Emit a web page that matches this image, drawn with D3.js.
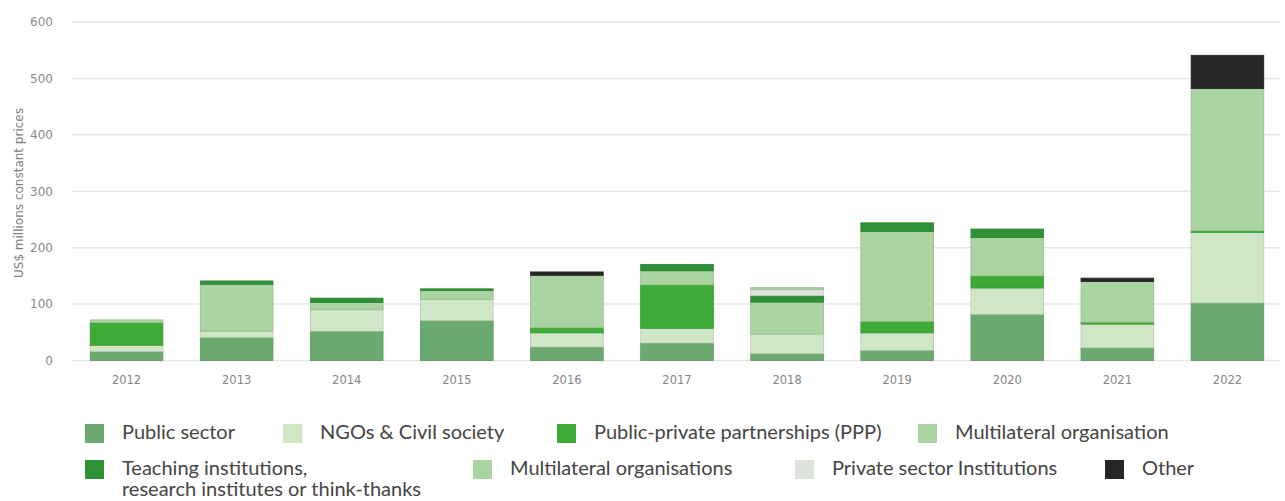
<!DOCTYPE html>
<html>
<head>
<meta charset="utf-8">
<script src="https://cdn.jsdelivr.net/npm/d3@7"></script>
<style>
  html, body { margin: 0; padding: 0; background: #ffffff; }
  svg { display: block; font-family: Lato, "Open Sans", sans-serif; }
</style>
</head>
<body>
<svg id="chart" width="1285" height="501"></svg>
<script>
// Years on the x axis
const years = ["2012", "2013", "2014", "2015", "2016", "2017", "2018", "2019", "2020", "2021", "2022"];

// Series in stacking order (bottom to top), US$ millions constant prices
const publicSector      = [16, 41, 52, 71, 24, 31, 12, 18, 82, 22.5, 102];
const ngosCivil         = [11, 11, 38, 37, 25, 26, 35, 31, 46.5, 42, 125];
const ppp               = [40, 0, 0, 0, 9, 77, 0, 20.5, 21.5, 3.5, 3];
const multilateralOrg   = [5, 83, 13, 16, 93, 25, 56.5, 159, 68, 72, 252];
const teaching          = [0, 6, 7.5, 3, 0, 11, 11.5, 15.5, 15, 0, 0];
const privateSector     = [0, 0, 0, 0, 0, 0, 11, 0, 0, 0, 0];
const multilateralOrgs  = [0, 0, 0, 0, 0, 0, 3, 0, 0, 0, 0];
const other             = [0, 0, 0, 0, 6, 0, 0, 0, 0, 6, 59];

const yTicks = [0, 100, 200, 300, 400, 500, 600];

const seriesNames = [
  "Public sector",
  "NGOs & Civil society",
  "Public-private partnerships (PPP)",
  "Multilateral organisation",
  "Teaching institutions,\nresearch institutes or think-thanks",
  "Private sector Institutions",
  "Multilateral organisations",
  "Other"
];
const seriesValues = [publicSector, ngosCivil, ppp, multilateralOrg, teaching, privateSector, multilateralOrgs, other];
const seriesColors = ["#6aaa6e", "#cfe6c7", "#3eab37", "#aad4a1", "#2f9136", "#dde2da", "#aad4a1", "#262626"];

// Legend reading order (indices into the series above)
const legendOrder = [0, 1, 2, 3, 4, 6, 5, 7];

// Build rows for d3.stack
const keys = seriesNames.map((_, i) => "s" + i);
const rows = years.map((y, j) => {
  const r = { year: y };
  keys.forEach((k, i) => { r[k] = seriesValues[i][j]; });
  return r;
});
const stacked = d3.stack().keys(keys)(rows);

const svg = d3.select("#chart");

const x = d3.scaleBand()
  .domain(years)
  .range([71.5, 1282.5])
  .paddingInner(0.34)
  .paddingOuter(0.17);

const y = d3.scaleLinear()
  .domain([0, 600])
  .range([360.5, 22]);

// Gridlines
svg.append("g")
  .selectAll("line")
  .data(yTicks)
  .join("line")
  .attr("x1", 72)
  .attr("x2", 1280)
  .attr("y1", d => y(d))
  .attr("y2", d => y(d))
  .attr("stroke", "#e6e6e6")
  .attr("stroke-width", 1.5);

// Y axis labels
const yAxis = d3.axisLeft(y).tickValues(yTicks).tickSize(0).tickPadding(0);
svg.append("g")
  .attr("transform", "translate(53,0)")
  .call(yAxis)
  .call(g => g.select(".domain").remove())
  .call(g => g.selectAll("text")
    .attr("fill", "#8a8a8a")
    .style("font-size", "12px")
    .style("font-family", "'DejaVu Sans', sans-serif"));

// Y axis title
svg.append("text")
  .attr("transform", "translate(19,193) rotate(-90)")
  .attr("text-anchor", "middle")
  .attr("dominant-baseline", "middle")
  .attr("fill", "#808080")
  .style("font-size", "12px")
  .style("font-family", "'DejaVu Sans', sans-serif")
  .text("US$ millions constant prices");

// X axis labels
const xAxis = d3.axisBottom(x).tickSize(0).tickPadding(0);
svg.append("g")
  .attr("transform", "translate(0,376)")
  .call(xAxis)
  .call(g => g.select(".domain").remove())
  .call(g => g.selectAll("text")
    .attr("fill", "#858585")
    .style("font-size", "11.5px")
    .style("font-family", "'DejaVu Sans', sans-serif"));

// Stacked bars
svg.append("g")
  .selectAll("g")
  .data(stacked)
  .join("g")
  .attr("fill", (d, i) => seriesColors[i])
  .attr("stroke", (d, i) => d3.color(seriesColors[i]).darker(0.35))
  .attr("stroke-width", 0.8)
  .selectAll("rect")
  .data(d => d.filter(s => s[1] - s[0] > 0))
  .join("rect")
  .attr("x", d => x(d.data.year))
  .attr("width", x.bandwidth())
  .attr("y", d => y(d[1]))
  .attr("height", d => y(d[0]) - y(d[1]));

// Legend: text start positions, two rows
const legendPos = [
  [122, 434], [320, 434], [594, 434], [955, 434],
  [122, 470], [510, 470], [832, 470], [1142, 470]
];
const legend = svg.append("g");
legendOrder.forEach((si, i) => {
  const [lx, ly] = legendPos[i];
  const g = legend.append("g").attr("transform", `translate(${lx},${ly})`);
  g.append("rect")
    .attr("x", -37).attr("y", -10)
    .attr("width", 19).attr("height", 19)
    .attr("fill", seriesColors[si]);
  const t = g.append("text")
    .attr("x", 0)
    .attr("y", 0)
    .attr("fill", "#444444")
    .style("font-size", "20px")
    .attr("dominant-baseline", "middle");
  seriesNames[si].split("\n").forEach((line, k) => {
    t.append("tspan").attr("x", 0).attr("dy", k === 0 ? 0 : 21).text(line);
  });
});
</script>
</body>
</html>
